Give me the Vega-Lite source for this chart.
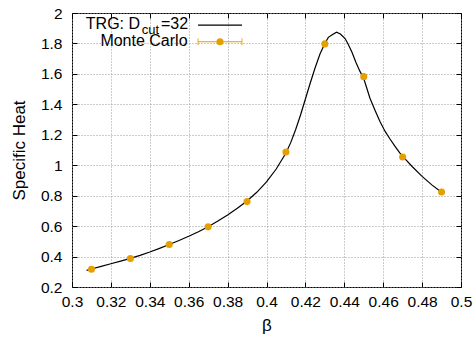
{
  "$schema": "https://vega.github.io/schema/vega-lite/v6.json",
  "width": 389,
  "height": 274,
  "autosize": {"type": "none"},
  "padding": {"left": 72, "top": 13, "right": 15, "bottom": 51},
  "config": {
    "font": "Liberation Sans",
    "view": {"stroke": "black", "strokeWidth": 1},
    "axis": {
      "domainColor": "black",
      "tickColor": "black",
      "labelColor": "black",
      "titleColor": "black",
      "labelFont": "Liberation Sans",
      "titleFont": "Liberation Sans",
      "labelFontSize": 15.5,
      "titleFontSize": 17,
      "titleFontWeight": "normal",
      "gridColor": "#999999",
      "gridDash": [1, 2],
      "gridOpacity": 1
    }
  },
  "datasets": {
    "trg": [
      {"b": 0.3075, "c": 0.309}, {"b": 0.31, "c": 0.318}, {"b": 0.315, "c": 0.336}, {"b": 0.32, "c": 0.353},
      {"b": 0.325, "c": 0.37}, {"b": 0.33, "c": 0.388}, {"b": 0.335, "c": 0.408}, {"b": 0.34, "c": 0.43},
      {"b": 0.345, "c": 0.454}, {"b": 0.35, "c": 0.479}, {"b": 0.355, "c": 0.505}, {"b": 0.36, "c": 0.533},
      {"b": 0.365, "c": 0.563}, {"b": 0.37, "c": 0.596}, {"b": 0.375, "c": 0.633}, {"b": 0.38, "c": 0.673},
      {"b": 0.385, "c": 0.717}, {"b": 0.39, "c": 0.765}, {"b": 0.395, "c": 0.822}, {"b": 0.4, "c": 0.89},
      {"b": 0.405, "c": 0.975}, {"b": 0.41, "c": 1.08}, {"b": 0.4125, "c": 1.15}, {"b": 0.415, "c": 1.235},
      {"b": 0.4175, "c": 1.33}, {"b": 0.42, "c": 1.435}, {"b": 0.4225, "c": 1.54}, {"b": 0.425, "c": 1.64},
      {"b": 0.4275, "c": 1.73}, {"b": 0.43, "c": 1.8}, {"b": 0.4318, "c": 1.84}, {"b": 0.434, "c": 1.858},
      {"b": 0.436, "c": 1.874}, {"b": 0.438, "c": 1.862}, {"b": 0.4404, "c": 1.832}, {"b": 0.442, "c": 1.795},
      {"b": 0.444, "c": 1.74}, {"b": 0.446, "c": 1.675}, {"b": 0.448, "c": 1.618}, {"b": 0.45, "c": 1.57},
      {"b": 0.4532, "c": 1.44}, {"b": 0.456, "c": 1.355}, {"b": 0.4584, "c": 1.285}, {"b": 0.461, "c": 1.222},
      {"b": 0.4635, "c": 1.172}, {"b": 0.466, "c": 1.125}, {"b": 0.4686, "c": 1.08}, {"b": 0.471, "c": 1.045},
      {"b": 0.475, "c": 0.99}, {"b": 0.48, "c": 0.927}, {"b": 0.485, "c": 0.871}, {"b": 0.49, "c": 0.822}
    ],
    "mc": [
      {"b": 0.31, "c": 0.317, "lo": 0.312, "hi": 0.322},
      {"b": 0.33, "c": 0.387, "lo": 0.382, "hi": 0.392},
      {"b": 0.35, "c": 0.479, "lo": 0.474, "hi": 0.484},
      {"b": 0.37, "c": 0.595, "lo": 0.59, "hi": 0.6},
      {"b": 0.39, "c": 0.761, "lo": 0.755, "hi": 0.767},
      {"b": 0.41, "c": 1.087, "lo": 1.08, "hi": 1.094},
      {"b": 0.43, "c": 1.797, "lo": 1.787, "hi": 1.807},
      {"b": 0.45, "c": 1.582, "lo": 1.562, "hi": 1.602},
      {"b": 0.47, "c": 1.054, "lo": 1.047, "hi": 1.061},
      {"b": 0.49, "c": 0.824, "lo": 0.819, "hi": 0.829}
    ],
    "leg": [
      {"s": "trg", "x1": 0.3648, "x2": 0.3874, "xm": 0.3761, "y": 1.921, "ty": 1.895},
      {"s": "mc", "x1": 0.3648, "x2": 0.3874, "xm": 0.3761, "y": 1.811, "ty": 1.783}
    ]
  },
  "resolve": {"axis": {"x": "independent", "y": "independent"}},
  "layer": [
    {
      "data": {"name": "trg"},
      "mark": {"type": "line", "color": "black", "strokeWidth": 1.2, "clip": true},
      "encoding": {
        "x": {
          "field": "b", "type": "quantitative",
          "scale": {"domain": [0.3, 0.5], "nice": false, "zero": false},
          "axis": {
            "orient": "bottom", "title": "β", "values": [0.3, 0.32, 0.34, 0.36, 0.38, 0.4, 0.42, 0.44, 0.46, 0.48, 0.5],
            "format": "~g", "tickSize": -5, "labelPadding": 12, "grid": true, "titlePadding": 8, "labelFlush": false,
            "domain": false
          }
        },
        "y": {
          "field": "c", "type": "quantitative",
          "scale": {"domain": [0.2, 2], "nice": false, "zero": false},
          "axis": {
            "orient": "left", "title": "Specific Heat", "values": [0.2, 0.4, 0.6, 0.8, 1, 1.2, 1.4, 1.6, 1.8, 2],
            "format": "~g", "tickSize": -5, "labelPadding": 15, "grid": true, "titlePadding": 12, "labelFlush": false,
            "domain": false
          }
        }
      }
    },
    {
      "data": {"name": "mc"},
      "mark": {"type": "rule", "color": "#E69F00", "strokeWidth": 1.2},
      "encoding": {
        "x": {"field": "b", "type": "quantitative", "axis": {"orient": "top", "labels": false, "title": null, "tickSize": -5, "grid": false, "domain": false, "values": [0.3, 0.32, 0.34, 0.36, 0.38, 0.4, 0.42, 0.44, 0.46, 0.48, 0.5]}},
        "y": {"field": "lo", "type": "quantitative", "axis": {"orient": "right", "labels": false, "title": null, "tickSize": -5, "grid": false, "domain": false, "values": [0.2, 0.4, 0.6, 0.8, 1, 1.2, 1.4, 1.6, 1.8, 2]}},
        "y2": {"field": "hi"}
      }
    },
    {
      "data": {"name": "mc"},
      "mark": {"type": "circle", "color": "#E69F00", "opacity": 1, "size": 50},
      "encoding": {
        "x": {"field": "b", "type": "quantitative", "axis": null},
        "y": {"field": "c", "type": "quantitative", "axis": null}
      }
    },
    {
      "data": {"name": "leg"},
      "transform": [{"filter": "datum.s === 'trg'"}],
      "mark": {"type": "rule", "color": "black", "strokeWidth": 1.2},
      "encoding": {
        "x": {"field": "x1", "type": "quantitative", "axis": null},
        "x2": {"field": "x2"},
        "y": {"field": "y", "type": "quantitative", "axis": null}
      }
    },
    {
      "data": {"name": "leg"},
      "transform": [{"filter": "datum.s === 'mc'"}],
      "mark": {"type": "rule", "color": "#E69F00", "strokeWidth": 1.2},
      "encoding": {
        "x": {"field": "x1", "type": "quantitative", "axis": null},
        "x2": {"field": "x2"},
        "y": {"field": "y", "type": "quantitative", "axis": null}
      }
    },
    {
      "data": {"name": "leg"},
      "transform": [{"filter": "datum.s === 'mc'"}, {"fold": ["x1", "x2"], "as": ["k", "xc"]}],
      "mark": {"type": "tick", "color": "#E69F00", "orient": "vertical", "size": 7, "thickness": 1.2},
      "encoding": {
        "x": {"field": "xc", "type": "quantitative", "axis": null},
        "y": {"field": "y", "type": "quantitative", "axis": null}
      }
    },
    {
      "data": {"name": "leg"},
      "transform": [{"filter": "datum.s === 'mc'"}],
      "mark": {"type": "circle", "color": "#E69F00", "opacity": 1, "size": 50},
      "encoding": {
        "x": {"field": "xm", "type": "quantitative", "axis": null},
        "y": {"field": "y", "type": "quantitative", "axis": null}
      }
    },
    {
      "data": {"name": "leg"},
      "transform": [{"filter": "datum.s === 'mc'"}, {"calculate": "'Monte Carlo'", "as": "t"}],
      "mark": {"type": "text", "align": "right", "baseline": "alphabetic", "fontSize": 16, "dx": -10.5, "color": "black"},
      "encoding": {
        "x": {"field": "x1", "type": "quantitative", "axis": null},
        "y": {"field": "ty", "type": "quantitative", "axis": null},
        "text": {"field": "t"}
      }
    },
    {
      "data": {"name": "leg"},
      "transform": [{"filter": "datum.s === 'trg'"}, {"calculate": "'=32'", "as": "t"}],
      "mark": {"type": "text", "align": "right", "baseline": "alphabetic", "fontSize": 16, "dx": -10, "color": "black"},
      "encoding": {
        "x": {"field": "x1", "type": "quantitative", "axis": null},
        "y": {"field": "ty", "type": "quantitative", "axis": null},
        "text": {"field": "t"}
      }
    },
    {
      "data": {"name": "leg"},
      "transform": [{"filter": "datum.s === 'trg'"}, {"calculate": "'cut'", "as": "t"}],
      "mark": {"type": "text", "align": "right", "baseline": "alphabetic", "fontSize": 13, "dx": -39, "dy": 5, "color": "black"},
      "encoding": {
        "x": {"field": "x1", "type": "quantitative", "axis": null},
        "y": {"field": "ty", "type": "quantitative", "axis": null},
        "text": {"field": "t"}
      }
    },
    {
      "data": {"name": "leg"},
      "transform": [{"filter": "datum.s === 'trg'"}, {"calculate": "'TRG: D'", "as": "t"}],
      "mark": {"type": "text", "align": "right", "baseline": "alphabetic", "fontSize": 16, "dx": -58, "color": "black"},
      "encoding": {
        "x": {"field": "x1", "type": "quantitative", "axis": null},
        "y": {"field": "ty", "type": "quantitative", "axis": null},
        "text": {"field": "t"}
      }
    }
  ]
}
